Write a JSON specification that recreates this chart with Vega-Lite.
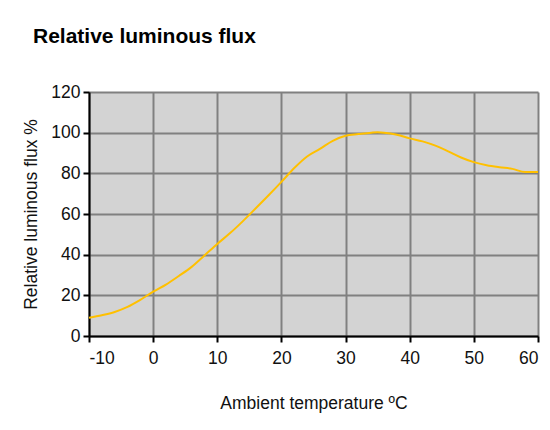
{
  "$schema": "https://vega.github.io/schema/vega-lite/v6.json",
  "autosize": "none",
  "width": 449,
  "height": 244,
  "padding": {"left": 89, "top": 92, "right": 12, "bottom": 94},
  "background": "white",
  "title": {
    "text": "Relative luminous flux",
    "anchor": "start",
    "frame": "group",
    "dx": -56,
    "offset": 36,
    "font": "Liberation Sans",
    "fontSize": 21,
    "fontWeight": "bold",
    "color": "black"
  },
  "data": {
    "values": [
      {"t": -10, "v": 9},
      {"t": -8, "v": 10.2},
      {"t": -6, "v": 11.8},
      {"t": -4, "v": 14.3},
      {"t": -2, "v": 17.8},
      {"t": 0, "v": 21.8},
      {"t": 2, "v": 25.3},
      {"t": 4, "v": 29.5},
      {"t": 6, "v": 34},
      {"t": 8, "v": 39.6},
      {"t": 10, "v": 45.3},
      {"t": 12, "v": 50.6},
      {"t": 14, "v": 56.5},
      {"t": 16, "v": 62.8},
      {"t": 18, "v": 69.2},
      {"t": 20, "v": 75.8},
      {"t": 22, "v": 82.6},
      {"t": 24, "v": 88.3},
      {"t": 26, "v": 92},
      {"t": 28, "v": 96},
      {"t": 30, "v": 98.5},
      {"t": 32, "v": 99.3},
      {"t": 34, "v": 100},
      {"t": 35, "v": 100.2},
      {"t": 36, "v": 100},
      {"t": 38, "v": 99},
      {"t": 40, "v": 97.2},
      {"t": 42, "v": 95.7},
      {"t": 44, "v": 93.6},
      {"t": 46, "v": 90.8},
      {"t": 48, "v": 87.8},
      {"t": 50, "v": 85.5},
      {"t": 52, "v": 84},
      {"t": 54, "v": 83},
      {"t": 56, "v": 82.2},
      {"t": 58, "v": 80.6},
      {"t": 60, "v": 80.6}
    ]
  },
  "mark": {"type": "line", "color": "#FFC000", "strokeWidth": 2, "interpolate": "monotone"},
  "encoding": {
    "x": {
      "field": "t",
      "type": "quantitative",
      "scale": {"domain": [-10, 60], "nice": false, "zero": false},
      "axis": {
        "title": "Ambient temperature ºC",
        "values": [-10, 0, 10, 20, 30, 40, 50, 60],
        "labelExpr": "datum.value < 0 ? '-' + abs(datum.value) : '' + datum.value",
        "labelPadding": 7,
        "titlePadding": 28
      }
    },
    "y": {
      "field": "v",
      "type": "quantitative",
      "scale": {"domain": [0, 120], "nice": false},
      "axis": {
        "title": "Relative luminous flux %",
        "values": [0, 20, 40, 60, 80, 100, 120],
        "labelPadding": 3,
        "titlePadding": 10
      }
    }
  },
  "config": {
    "view": {"fill": "#d3d3d3", "stroke": null},
    "axis": {
      "labelFont": "Liberation Sans",
      "titleFont": "Liberation Sans",
      "labelFontSize": 17.5,
      "titleFontSize": 17.5,
      "titleFontWeight": "normal",
      "labelColor": "#111",
      "titleColor": "#111",
      "domainColor": "black",
      "domainWidth": 2,
      "tickColor": "black",
      "tickWidth": 2,
      "tickSize": 6,
      "gridColor": "#808080",
      "gridWidth": 2,
      "gridOpacity": 1
    }
  }
}
